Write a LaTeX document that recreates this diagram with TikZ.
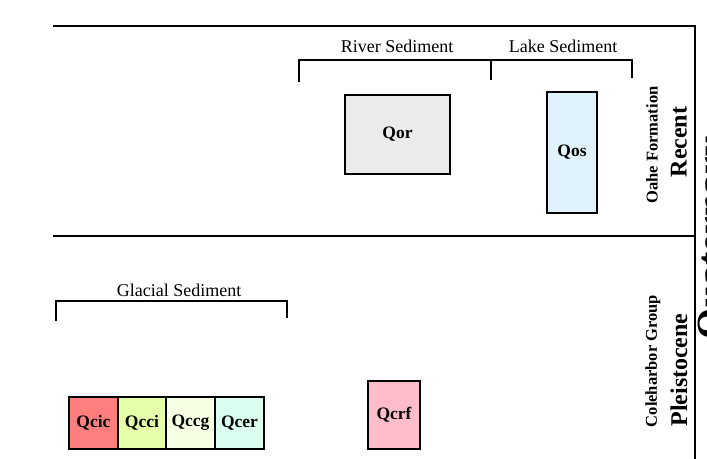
\documentclass[tikz,border=0pt]{standalone}
\usepackage{fontspec}
\setmainfont{Liberation Serif}
\begin{document}
\begin{tikzpicture}[x=1pt,y=-1pt,
  frameline/.style={line width=2pt},
  brack/.style={line width=1.8pt},
  unit/.style={draw,line width=1.8pt,inner sep=0pt,font=\fontsize{17.5}{17.5}\selectfont\bfseries},
  brlabel/.style={inner sep=0pt,font=\fontsize{18}{18}\selectfont},
  rotlab/.style={rotate=90,inner sep=0pt,font=\fontsize{16.5}{16.5}\selectfont\bfseries},
  rotbig/.style={rotate=90,inner sep=0pt,font=\fontsize{24}{24}\selectfont\bfseries}]
\useasboundingbox (0,0) rectangle (707,458);
\definecolor{cqor}{HTML}{EBEBEB}
\definecolor{cqos}{HTML}{E0F3FC}
\definecolor{cqcrf}{HTML}{FFBDCB}
\definecolor{cqcic}{HTML}{FF7F7F}
\definecolor{cqcci}{HTML}{E6FFAA}
\definecolor{cqccg}{HTML}{F5FFE4}
\definecolor{cqcer}{HTML}{DAFFF0}
% frame
\coordinate (tl) at (53,26);
\coordinate (tr) at (695,26);
\coordinate (ml) at (53,236);
\coordinate (mr) at (695,236);
\coordinate (br) at (695,470);
\draw[frameline] (tl) -- (tr) -- (br);
\draw[frameline] (ml) -- (mr);
% brackets top
\coordinate (r1) at (299,82);
\coordinate (r1t) at (299,60);
\coordinate (r2) at (491,80);
\coordinate (r2t) at (491,60);
\coordinate (r3) at (632,78);
\coordinate (r3t) at (632,60);
\draw[brack] (r1) -- (r1t) -- (r3t) -- (r3);
\draw[brack] (r2t) -- (r2);
\node[brlabel] (river) at (397,46) {River Sediment};
\node[brlabel] (lake) at (563,46) {Lake Sediment};
% glacial bracket
\coordinate (g1) at (56,321);
\coordinate (g1t) at (56,301);
\coordinate (g2) at (287,318);
\coordinate (g2t) at (287,301);
\draw[brack] (g1) -- (g1t) -- (g2t) -- (g2);
\node[brlabel] (glacial) at (179,290) {Glacial Sediment};
% boxes
\node[unit,fill=cqor,minimum width=105pt,minimum height=79pt] (qor) at (397.5,134.5) {Qor};
\node[unit,fill=cqos,minimum width=50pt,minimum height=121pt] (qos) at (572,152.5) {Qos};
\node[unit,fill=cqcrf,minimum width=52pt,minimum height=68pt] (qcrf) at (394,415) {Qcrf};
\node[unit,fill=cqcic,minimum width=49pt,minimum height=52pt] (qcic) at (93.5,423) {Qcic};
\node[unit,fill=cqcci,minimum width=48pt,minimum height=52pt] (qcci) at (142,423) {Qcci};
\node[unit,fill=cqccg,minimum width=49pt,minimum height=52pt] (qccg) at (190.5,423) {Qccg};
\node[unit,fill=cqcer,minimum width=49pt,minimum height=52pt] (qcer) at (239.5,423) {Qcer};
% rotated labels
\node[rotlab] (oahe) at (652,145) {Oahe Formation};
\node[rotbig] (recent) at (679,142) {Recent};
\node[rotlab] (cole) at (653,361) {Coleharbor Group};
\node[rotbig] (pleist) at (679,370) {Pleistocene};
\node[rotate=90,inner sep=0pt,anchor=north,font=\fontsize{40}{40}\selectfont\bfseries] (quat) at (697.5,238) {Quaternary};
\end{tikzpicture}
\end{document}
